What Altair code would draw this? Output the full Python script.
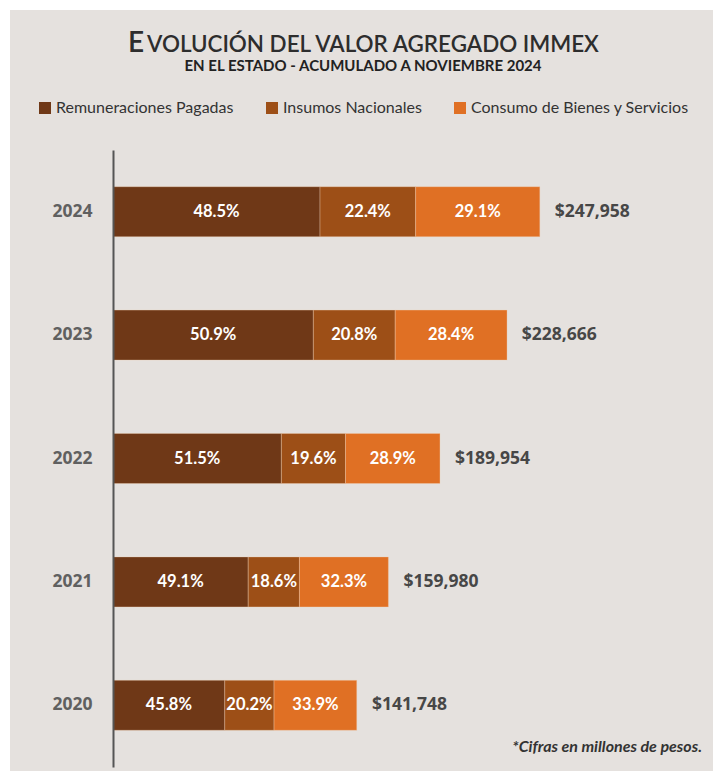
import altair as alt
import pandas as pd

years = ["2024", "2023", "2022", "2021", "2020"]
series = ["Remuneraciones Pagadas", "Insumos Nacionales", "Consumo de Bienes y Servicios"]
remuneraciones = [48.5, 50.9, 51.5, 49.1, 45.8]
insumos = [22.4, 20.8, 19.6, 18.6, 20.2]
consumo = [29.1, 28.4, 28.9, 32.3, 33.9]
totals = [247958, 228666, 189954, 159980, 141748]
colors = ["#6f3817", "#9d4f17", "#e07024"]

title_first = "E"
title_rest = "VOLUCIÓN DEL VALOR AGREGADO IMMEX"
subtitle_text = "EN EL ESTADO - ACUMULADO A NOVIEMBRE 2024"
note_text = "*Cifras en millones de pesos."

rows = []
for i, yr in enumerate(years):
    start = 0.0
    for k, (s, pcts) in enumerate(zip(series, [remuneraciones, insumos, consumo])):
        v = pcts[i] / 100.0 * totals[i]
        rows.append(dict(year=yr, serie=s, order=k, x0=start, x1=start + v,
                         mid=start + v / 2, label=f"{pcts[i]:.1f}%"))
        start += v
seg = pd.DataFrame(rows)
tot = pd.DataFrame(dict(year=years, total=totals, label=[f"${t:,}" for t in totals]))

W, H = 587, 617
xscale = alt.Scale(domain=[0, 341000])
yenc = alt.Y("year:N", sort=years, scale=alt.Scale(paddingInner=0, paddingOuter=0),
             axis=alt.Axis(title=None, ticks=False, grid=False, domainColor="#555555",
                           domainWidth=2, labelFont="Open Sans", labelFontSize=17.5,
                           labelFontWeight="bold", labelColor="#606060",
                           labelPadding=21, zindex=1))

bg = alt.Chart(pd.DataFrame({"a": [0]})).mark_rect(color="#e5e1de").encode(
    x=alt.value(-103), x2=alt.value(600), y=alt.value(-140), y2=alt.value(621))

bars = alt.Chart(seg).mark_bar(size=50, stroke="#f0cfb2", strokeWidth=0.6, strokeOpacity=0.6).encode(
    x=alt.X("x0:Q", scale=xscale, axis=None),
    x2="x1:Q",
    y=yenc,
    color=alt.Color("serie:N", scale=alt.Scale(domain=series, range=colors),
                    legend=alt.Legend(title=None, orient="none", legendX=-76, legendY=-50,
                                      direction="horizontal", symbolType="square",
                                      symbolSize=144, symbolStrokeWidth=0, symbolOpacity=1,
                                      labelFont="Lato", labelFontSize=16, labelColor="#333333",
                                      labelLimit=400, labelOffset=3, columnPadding=30,
                                      zindex=1)),
    order="order:Q",
)

seg_text = alt.Chart(seg).mark_text(font="Lato", fontSize=16.5, fontWeight="bold",
                                    color="white").encode(
    x=alt.X("mid:Q", scale=xscale, axis=None), y=yenc, text="label:N")

tot_text = alt.Chart(tot).mark_text(font="Open Sans", fontSize=17.5, fontWeight="bold",
                                    color="#474747", align="left", dx=15).encode(
    x=alt.X("total:Q", scale=xscale, axis=None), y=yenc, text="label:N")

note = alt.Chart(pd.DataFrame({"t": [note_text]})).mark_text(
    font="Lato", fontSize=16, fontStyle="italic", fontWeight="bold", color="#333333",
    align="right", baseline="alphabetic").encode(
    x=alt.value(589), y=alt.value(602), text="t:N")

t1 = alt.Chart(pd.DataFrame({"t": [title_first]})).mark_text(
    font="Lato", fontSize=28, fontWeight=600, color="#2d2d2d",
    align="left", baseline="alphabetic").encode(
    x=alt.value(15), y=alt.value(-98), text="t:N")

t2 = alt.Chart(pd.DataFrame({"t": [title_rest]})).mark_text(
    font="Lato", fontSize=22.4, fontWeight=600, color="#2d2d2d",
    align="left", baseline="alphabetic").encode(
    x=alt.value(34), y=alt.value(-98), text="t:N")

sub = alt.Chart(pd.DataFrame({"t": [subtitle_text]})).mark_text(
    font="Lato", fontSize=15, fontWeight="bold", color="#222222",
    align="center", baseline="alphabetic").encode(
    x=alt.value(250), y=alt.value(-79), text="t:N")

chart = alt.layer(bg, bars, seg_text, tot_text, note, t1, t2, sub).properties(
    width=W, height=H,
    autosize=alt.AutoSizeParams(type="none"),
    padding={"left": 113, "top": 150, "right": 17, "bottom": 4},
    background="white",
).configure_view(stroke=None)

chart.save("out.html", embed_options={"renderer": "svg", "actions": False})
